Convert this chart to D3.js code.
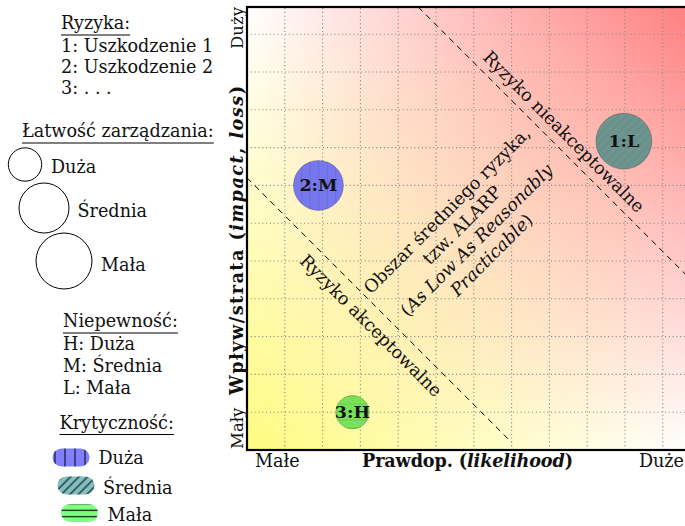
<!DOCTYPE html>
<html><head><meta charset="utf-8">
<script src="https://cdn.jsdelivr.net/npm/d3@7"></script>
<style>
body{margin:0;background:#fff}
svg{display:block}
text{font-family:"DejaVu Serif",serif;fill:#111}
</style>
</head><body>
<svg id="c" width="685" height="526"></svg>
<script>
// ---------- data ----------
const riskLabels   = ["1:L", "2:M", "3:H"];
const likelihood   = [9.97, 1.89, 2.79];
const impact       = [8.17, 7.0, 1.0];
const manageability = ["Mała", "Średnia", "Duża"];   // łatwość zarządzania -> size
const criticality  = ["Średnia", "Duża", "Mała"];    // krytyczność -> colour / hatch
const gridTicks    = [1,2,3,4,5,6,7,8,9,10,11];
const acceptLine   = [[0, 7.2], [7.0, 0.2]];
const unacceptLine = [[4.53, 11.72], [11.72, 4.53]];
const riskList     = ["1: Uszkodzenie 1", "2: Uszkodzenie 2", "3: . . ."];
const uncertaintyList = ["H: Duża", "M: Średnia", "L: Mała"];
const easeLevels   = ["Duża", "Średnia", "Mała"];
const critLevels   = ["Duża", "Średnia", "Mała"];
const xTickLabels  = ["Małe", "Duże"];
const yTickLabels  = ["Mały", "Duży"];

// ---------- setup ----------
const FS = 17.6;
const svg = d3.select("#c");
const X0 = 247, X1 = 690, Y0 = 450, Y1 = 7;
const x = d3.scaleLinear().domain([0, 11.72]).range([X0, X1]);
const y = d3.scaleLinear().domain([0, 11.72]).range([Y0, Y1]);
const rScale = d3.scaleOrdinal().domain(easeLevels).range([16.7, 25, 28]);
const legendFill = d3.scaleOrdinal().domain(critLevels).range(["#8080ff", "#80c0c0", "#80ff80"]);
const bubbleFill = d3.scaleOrdinal().domain(critLevels).range(["#7878ee", "#6d948f", "#78e35a"]);
const hatchId = d3.scaleOrdinal().domain(critLevels).range(["vert", "diag", "horiz"]);

const defs = svg.append("defs");
// background bilinear shading
const gb = defs.append("linearGradient").attr("id","gb").attr("x1",0).attr("x2",1).attr("y1",0).attr("y2",0);
gb.append("stop").attr("offset","0%").attr("stop-color","#fffb80");
gb.append("stop").attr("offset","100%").attr("stop-color","#ffffff");
const gt = defs.append("linearGradient").attr("id","gt").attr("x1",0).attr("x2",1).attr("y1",0).attr("y2",0);
gt.append("stop").attr("offset","0%").attr("stop-color","#ffffff");
gt.append("stop").attr("offset","100%").attr("stop-color","#ff7f7f");
const gv = defs.append("linearGradient").attr("id","gv").attr("x1",0).attr("x2",0).attr("y1",0).attr("y2",1);
gv.append("stop").attr("offset","0%").attr("stop-color","#fff");
gv.append("stop").attr("offset","100%").attr("stop-color","#000");
defs.append("mask").attr("id","mv").attr("maskUnits","userSpaceOnUse")
  .append("rect").attr("x",X0).attr("y",Y1).attr("width",X1-X0).attr("height",Y0-Y1).attr("fill","url(#gv)");
defs.append("clipPath").attr("id","plotclip")
  .append("rect").attr("x",X0).attr("y",Y1).attr("width",X1-X0).attr("height",Y0-Y1);

// hatch patterns
function makePattern(id, kind, color, width, gap){
  const p = defs.append("pattern").attr("id",id).attr("patternUnits","userSpaceOnUse")
    .attr("width",gap).attr("height",gap);
  if(kind==="vert") p.append("line").attr("x1",gap/2).attr("x2",gap/2).attr("y1",0).attr("y2",gap);
  if(kind==="horiz") p.append("line").attr("y1",gap/2).attr("y2",gap/2).attr("x1",0).attr("x2",gap);
  if(kind==="diag"){
    p.attr("patternTransform","rotate(45)");
    p.append("line").attr("x1",gap/2).attr("x2",gap/2).attr("y1",0).attr("y2",gap);
  }
  p.selectAll("line").attr("stroke",color).attr("stroke-width",width);
}
makePattern("p-vert","vert","rgba(0,0,0,0.10)",1,8.5);
makePattern("p-diag","diag","rgba(0,0,0,0.06)",1,6);
makePattern("p-horiz","horiz","rgba(0,0,0,0.10)",1,8);
makePattern("l-vert","vert","#000",1,10);
makePattern("l-diag","diag","#000",1,6);
makePattern("l-horiz","horiz","#000",1.1,6.5);

// ---------- plot ----------
const plot = svg.append("g").attr("clip-path","url(#plotclip)");
plot.append("rect").attr("x",X0).attr("y",Y1).attr("width",X1-X0).attr("height",Y0-Y1).attr("fill","url(#gb)");
plot.append("rect").attr("x",X0).attr("y",Y1).attr("width",X1-X0).attr("height",Y0-Y1).attr("fill","url(#gt)").attr("mask","url(#mv)");

// grid
const grid = plot.append("g").attr("stroke","#8a8a8a").attr("stroke-width",1.1).attr("stroke-dasharray","1.1 2.7");
grid.selectAll("line.v").data(gridTicks).join("line").attr("class","v")
  .attr("x1",d=>x(d)).attr("x2",d=>x(d)).attr("y1",Y0).attr("y2",Y1);
grid.selectAll("line.h").data(gridTicks).join("line").attr("class","h")
  .attr("y1",d=>y(d)).attr("y2",d=>y(d)).attr("x1",X0).attr("x2",X1);

// boundary lines
const lineGen = d3.line().x(d=>x(d[0])).y(d=>y(d[1]));
[acceptLine, unacceptLine].forEach(l=>{
  plot.append("path").attr("d",lineGen(l)).attr("fill","none").attr("stroke","#000")
    .attr("stroke-width",1).attr("stroke-dasharray","6 5");
});

// zone labels
function rotLabel(cx, cy, ang, lines, fs){
  const g = plot.append("g").attr("transform",`translate(${x(cx)},${y(cy)}) rotate(${ang})`);
  const n = lines.length;
  lines.forEach((parts,i)=>{
    const t = g.append("text").attr("text-anchor","middle").attr("dominant-baseline","central")
      .attr("y",(i-(n-1)/2)*21).style("font-size",fs+"px");
    parts.forEach(p=>t.append("tspan").text(p[0]).style("font-style",p[1]?"italic":"normal"));
  });
}
rotLabel(8.38, 8.42, 45, [[["Ryzyko nieakceptowalne",0]]], FS);
rotLabel(3.28, 3.29, 45, [[["Ryzyko akceptowalne",0]]], FS);
rotLabel(5.88, 5.75, -45, [
  [["Obszar średniego ryzyka,",0]],
  [["tzw. ALARP",0]],
  [["(",0],["As Low As Reasonably",1]],
  [["Practicable",1],[")",0]]
], FS);

// bubbles
const risks = riskLabels.map((l,i)=>({label:l, lx:likelihood[i], iy:impact[i], ease:manageability[i], crit:criticality[i]}));
const bub = plot.selectAll("g.bub").data(risks).join("g").attr("class","bub");
bub.append("circle").attr("cx",d=>x(d.lx)).attr("cy",d=>y(d.iy)).attr("r",d=>rScale(d.ease))
  .attr("fill",d=>bubbleFill(d.crit)).attr("stroke","rgba(0,0,0,0.25)").attr("stroke-width",0.8);
bub.append("circle").attr("cx",d=>x(d.lx)).attr("cy",d=>y(d.iy)).attr("r",d=>rScale(d.ease))
  .attr("fill",d=>`url(#p-${hatchId(d.crit)})`);
bub.append("text").attr("x",d=>x(d.lx)).attr("y",d=>y(d.iy)).attr("text-anchor","middle")
  .attr("dominant-baseline","central").style("font-weight","bold").style("font-size","17.5px").text(d=>d.label);

// frame
svg.append("rect").attr("x",X0).attr("y",Y1).attr("width",X1-X0).attr("height",Y0-Y1)
  .attr("fill","none").attr("stroke","#000").attr("stroke-width",2.2);

// axis labels
svg.append("text").attr("x",255).attr("y",467).style("font-size",FS+"px").text(xTickLabels[0]);
svg.append("text").attr("x",684).attr("y",467).attr("text-anchor","end").style("font-size",FS+"px").text(xTickLabels[1]);
const xl = svg.append("text").attr("x",362).attr("y",467).attr("textLength",211).attr("lengthAdjust","spacing")
  .style("font-size",FS+"px").style("font-weight","bold");
xl.append("tspan").text("Prawdop. (");
xl.append("tspan").text("likelihood").style("font-style","italic");
xl.append("tspan").text(")");

svg.append("text").attr("transform","translate(242.5,449) rotate(-90)").style("font-size","16.5px").text(yTickLabels[0]);
svg.append("text").attr("transform","translate(242.5,7) rotate(-90)").attr("text-anchor","end").style("font-size","16.5px").text(yTickLabels[1]);
const yl = svg.append("text").attr("transform","translate(242.5,395) rotate(-90)")
  .attr("textLength",309).attr("lengthAdjust","spacing")
  .style("font-size",FS+"px").style("font-weight","bold");
yl.append("tspan").text("Wpływ/strata (");
yl.append("tspan").text("impact").style("font-style","italic");
yl.append("tspan").text(", ");
yl.append("tspan").text("loss").style("font-style","italic");
yl.append("tspan").text(")");

// ---------- legends ----------
function heading(txt, x0, yb){
  const t = svg.append("text").attr("x",x0).attr("y",yb).style("font-size",FS+"px").text(txt);
  const w = t.node().getComputedTextLength();
  svg.append("line").attr("x1",x0).attr("x2",x0+w).attr("y1",yb+6).attr("y2",yb+6).attr("stroke","#000").attr("stroke-width",1);
}
heading("Ryzyka:", 61, 29);
svg.selectAll("text.rl").data(riskList).join("text").attr("class","rl")
  .attr("x",61).attr("y",(d,i)=>52+i*21).style("font-size",FS+"px").text(d=>d);

heading("Łatwość zarządzania:", 22, 137);
const easePos = [[25,164.5,51,173],[44,208,77.5,217],[64,261,101,271]];
easeLevels.forEach((e,i)=>{
  const p = easePos[i];
  svg.append("circle").attr("cx",p[0]).attr("cy",p[1]).attr("r",rScale(e)).attr("fill","none").attr("stroke","#000").attr("stroke-width",1);
  svg.append("text").attr("x",p[2]).attr("y",p[3]).style("font-size",FS+"px").text(e);
});

heading("Niepewność:", 63, 327);
svg.selectAll("text.ul").data(uncertaintyList).join("text").attr("class","ul")
  .attr("x",63).attr("y",(d,i)=>349.5+i*22).style("font-size",FS+"px").text(d=>d);

heading("Krytyczność:", 59.5, 428.5);
const critPos = [[52.5,448.5,98.5,463.5],[57.5,476.5,103,493.5],[61,504,107.5,520.5]];
critLevels.forEach((c,i)=>{
  const p = critPos[i];
  svg.append("rect").attr("x",p[0]).attr("y",p[1]).attr("width",37).attr("height",18).attr("rx",9)
    .attr("fill",legendFill(c));
  svg.append("rect").attr("x",p[0]).attr("y",p[1]).attr("width",37).attr("height",18).attr("rx",9)
    .attr("fill",`url(#l-${hatchId(c)})`);
  svg.append("text").attr("x",p[2]).attr("y",p[3]).style("font-size",FS+"px").text(c);
});
</script>
</body></html>
